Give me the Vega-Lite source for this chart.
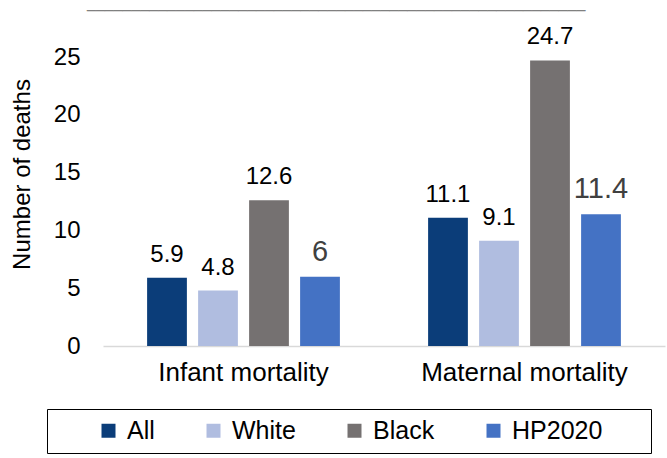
{
  "$schema": "https://vega.github.io/schema/vega-lite/v6.json",
  "width": 562,
  "height": 289,
  "autosize": {"type": "none"},
  "padding": {"left": 103, "top": 57, "right": 2, "bottom": 112},
  "background": "#ffffff",
  "title": {
    "text": "________________________________________________________",
    "anchor": "start",
    "frame": "group",
    "dx": -16,
    "offset": 0,
    "dy": -1,
    "baseline": "alphabetic",
    "fontSize": 16,
    "fontWeight": "normal",
    "font": "Liberation Sans",
    "color": "#808080"
  },
  "config": {
    "font": "Liberation Sans",
    "view": {"stroke": null}
  },
  "data": {
    "values": [
      {"measure": "Infant mortality", "group": "All", "value": 5.9},
      {"measure": "Infant mortality", "group": "White", "value": 4.8},
      {"measure": "Infant mortality", "group": "Black", "value": 12.6},
      {"measure": "Infant mortality", "group": "HP2020", "value": 6},
      {"measure": "Maternal mortality", "group": "All", "value": 11.1},
      {"measure": "Maternal mortality", "group": "White", "value": 9.1},
      {"measure": "Maternal mortality", "group": "Black", "value": 24.7},
      {"measure": "Maternal mortality", "group": "HP2020", "value": 11.4}
    ]
  },
  "encoding": {
    "x": {
      "field": "measure",
      "type": "nominal",
      "sort": ["Infant mortality", "Maternal mortality"],
      "scale": {"paddingInner": 0.274, "paddingOuter": 0.137},
      "axis": {
        "title": null,
        "labelAngle": 0,
        "labelFontSize": 26,
        "labelLimit": 400,
        "labelColor": "#000000",
        "labelPadding": 13,
        "ticks": false,
        "domainColor": "#d9d9d9",
        "domainWidth": 1.5
      }
    },
    "xOffset": {
      "field": "group",
      "type": "nominal",
      "sort": ["All", "White", "Black", "HP2020"],
      "scale": {"paddingInner": 0.22, "paddingOuter": 0.11}
    },
    "y": {
      "field": "value",
      "type": "quantitative",
      "scale": {"domain": [0, 25], "nice": false},
      "axis": {
        "title": "Number of deaths",
        "titleFontSize": 24,
        "titleFontWeight": "normal",
        "titleColor": "#000000",
        "titlePadding": 19,
        "titleY": 117,
        "values": [0, 5, 10, 15, 20, 25],
        "labelFontSize": 24,
        "labelColor": "#000000",
        "labelPadding": 23,
        "ticks": false,
        "domain": false,
        "grid": false
      }
    }
  },
  "layer": [
    {
      "mark": {"type": "bar"},
      "encoding": {
        "color": {
          "field": "group",
          "type": "nominal",
          "sort": ["All", "White", "Black", "HP2020"],
          "scale": {
            "domain": ["All", "White", "Black", "HP2020"],
            "range": ["#0b3d79", "#b0bde0", "#757171", "#4472c4"]
          },
          "legend": {
            "orient": "none",
            "legendX": -56,
            "legendY": 352,
            "direction": "horizontal",
            "title": " ",
            "titleOrient": "left",
            "titlePadding": 40,
            "titleFontSize": 10,
            "labelExpr": "datum.label == 'HP2020' ? 'HP2020\u00a0\u00a0\u00a0\u2800' : datum.label",
            "labelFontSize": 25,
            "labelLimit": 400,
            "labelColor": "#000000",
            "labelOffset": 6,
            "symbolType": "square",
            "symbolSize": 196,
            "symbolStrokeWidth": 0,
            "columnPadding": 46,
            "padding": 9,
            "strokeColor": "#000000",
            "fillColor": "#ffffff",
            "cornerRadius": 0
          }
        }
      }
    },
    {
      "mark": {"type": "text", "baseline": "alphabetic", "dy": -16},
      "encoding": {
        "text": {"field": "value", "type": "quantitative", "format": "~g"},
        "color": {
          "condition": {"test": "datum.group === 'HP2020'", "value": "#404040"},
          "value": "#000000"
        },
        "size": {
          "condition": {"test": "datum.group === 'HP2020'", "value": 29},
          "value": 24
        }
      }
    }
  ]
}
